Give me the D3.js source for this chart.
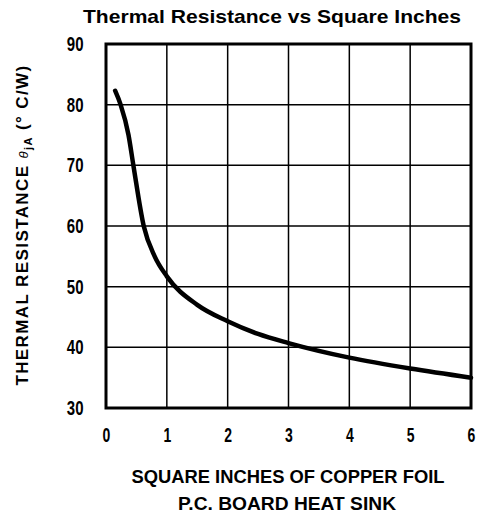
<!DOCTYPE html>
<html lang="en">
	<head>
		<meta charset="utf-8">
		<title>Thermal Resistance vs Square Inches</title>
		<script type="text/javascript" src="https://cdn.jsdelivr.net/npm/d3@7"></script>
		<style type="text/css">
			body { margin: 0; background: #fff; }
			.axis text {
				font-family: "Liberation Sans", Arial, sans-serif;
				font-weight: bold;
				font-size: 20px;
				fill: #000;
			}
		</style>
	</head>
	<body>
		<script type="text/javascript">

			//Curve: square inches vs thermal resistance
			var area = [0.15, 0.24, 0.37, 0.45, 0.62, 0.8, 1.0, 1.5, 2.0, 2.5, 3.0, 4.0, 5.0, 6.0];
			var resistance = [82.3, 80, 75, 70, 60, 55, 51.7, 47.0, 44.3, 42.2, 40.7, 38.3, 36.5, 35.0];

			var xTicks = [0, 1, 2, 3, 4, 5, 6];
			var yTicks = [30, 40, 50, 60, 70, 80, 90];

			var w = 482;
			var h = 514;
			var pLeft = 106, pRight = 471, pTop = 44, pBottom = 408;

			var xScale = d3.scaleLinear().domain([0, 6]).range([pLeft, pRight]);
			var yScale = d3.scaleLinear().domain([30, 90]).range([pBottom, pTop]);

			var svg = d3.select("body")
						.append("svg")
						.attr("width", w)
						.attr("height", h);

			//Title
			svg.append("text")
				.attr("x", 272)
				.attr("y", 23)
				.attr("text-anchor", "middle")
				.attr("font-family", "Liberation Sans, Arial, sans-serif")
				.attr("font-weight", "bold")
				.attr("font-size", "19px")
				.attr("textLength", 378)
				.attr("lengthAdjust", "spacingAndGlyphs")
				.text("Thermal Resistance vs Square Inches");

			//Grid
			svg.append("g")
				.selectAll("line")
				.data(xTicks.slice(1, -1))
				.enter()
				.append("line")
				.attr("x1", function(d) { return xScale(d); })
				.attr("x2", function(d) { return xScale(d); })
				.attr("y1", pTop)
				.attr("y2", pBottom)
				.attr("stroke", "#000")
				.attr("stroke-width", 1.5);

			svg.append("g")
				.selectAll("line")
				.data(yTicks.slice(1, -1))
				.enter()
				.append("line")
				.attr("x1", pLeft)
				.attr("x2", pRight)
				.attr("y1", function(d) { return yScale(d); })
				.attr("y2", function(d) { return yScale(d); })
				.attr("stroke", "#000")
				.attr("stroke-width", 1.5);

			//Frame
			svg.append("rect")
				.attr("x", pLeft)
				.attr("y", pTop)
				.attr("width", pRight - pLeft)
				.attr("height", pBottom - pTop)
				.attr("fill", "none")
				.attr("stroke", "#000")
				.attr("stroke-width", 3);

			//Axes (labels only), narrowed like the condensed print type
			var xAxis = d3.axisBottom(xScale).tickValues(xTicks).tickFormat(d3.format("d")).tickSize(0).tickPadding(20);
			var yAxis = d3.axisLeft(yScale).tickValues(yTicks).tickFormat(d3.format("d")).tickSize(0).tickPadding(30);

			svg.append("g")
				.attr("class", "axis")
				.attr("transform", "translate(0," + pBottom + ")")
				.call(xAxis)
				.call(function(g) { g.select(".domain").remove(); })
				.selectAll("text")
				.attr("transform", "scale(0.7,1)");

			svg.append("g")
				.attr("class", "axis")
				.attr("transform", "translate(" + pLeft + ",0)")
				.call(yAxis)
				.call(function(g) { g.select(".domain").remove(); })
				.selectAll("text")
				.attr("transform", "scale(0.75,1)");

			//Curve
			var points = area.map(function(a, i) { return [a, resistance[i]]; });
			var line = d3.line()
						.x(function(d) { return xScale(d[0]); })
						.y(function(d) { return yScale(d[1]); })
						.curve(d3.curveMonotoneX);

			svg.append("path")
				.datum(points)
				.attr("d", line)
				.attr("fill", "none")
				.attr("stroke", "#000")
				.attr("stroke-width", 4.5)
				.attr("stroke-linecap", "round");

			//Axis titles
			var xTitle = svg.append("text")
				.attr("text-anchor", "middle")
				.attr("font-family", "Liberation Sans, Arial, sans-serif")
				.attr("font-weight", "bold")
				.attr("font-size", "18px");
			xTitle.append("tspan").attr("x", 288).attr("y", 483)
				.attr("textLength", 313).attr("lengthAdjust", "spacingAndGlyphs")
				.text("SQUARE INCHES OF COPPER FOIL");
			xTitle.append("tspan").attr("x", 287).attr("y", 510)
				.attr("textLength", 218).attr("lengthAdjust", "spacingAndGlyphs")
				.text("P.C. BOARD HEAT SINK");

			var yTitle = svg.append("text")
				.attr("transform", "translate(28,225) rotate(-90)")
				.attr("text-anchor", "middle")
				.attr("font-family", "Liberation Sans, Arial, sans-serif")
				.attr("font-weight", "bold")
				.attr("font-size", "17px")
				.attr("letter-spacing", "1.4px");
			yTitle.append("tspan").text("THERMAL RESISTANCE ");
			yTitle.append("tspan").attr("font-style", "italic").attr("font-weight", "normal").attr("font-size", "13px").text("θ");
			yTitle.append("tspan").attr("font-size", "11px").attr("dy", 4).text("jA");
			yTitle.append("tspan").attr("dy", -4).text("  (° C/W)");

		</script>
	</body>
</html>
